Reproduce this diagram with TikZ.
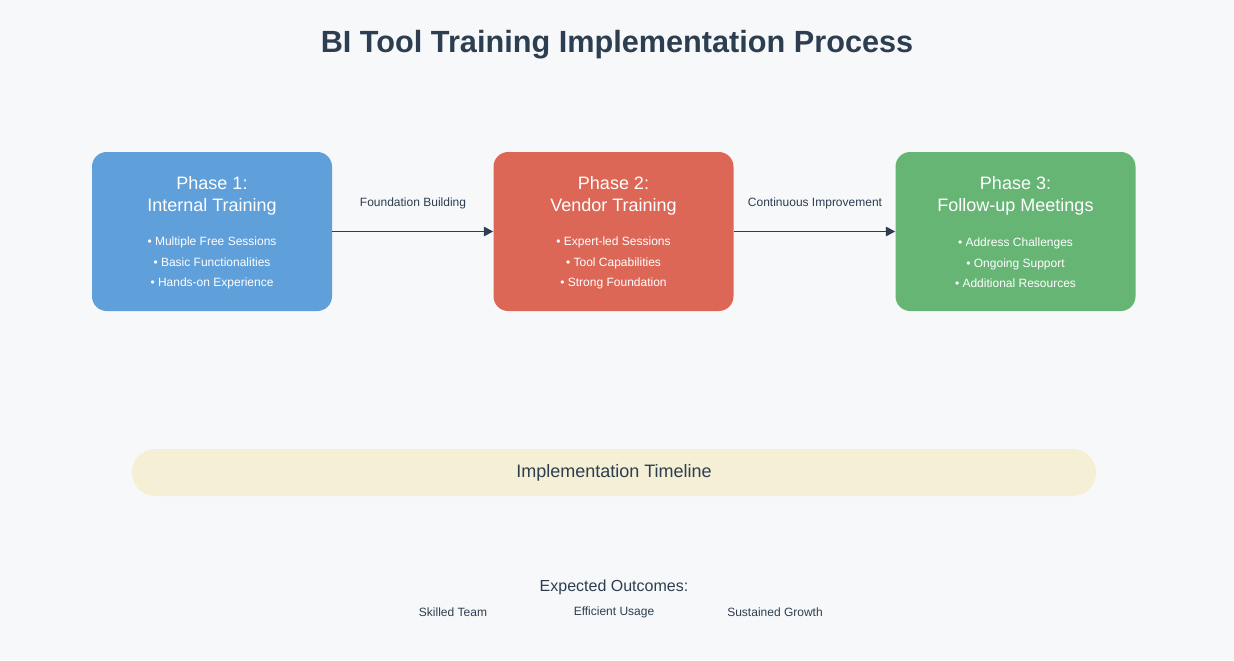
\documentclass[tikz,border=0pt]{standalone}
\usepackage{fontspec}
\setmainfont{Liberation Sans}
\usetikzlibrary{arrows.meta}
\definecolor{bg}{HTML}{F7F8FA}
\definecolor{dark}{HTML}{2C3E50}
\definecolor{pblue}{HTML}{5F9FDA}
\definecolor{pred}{HTML}{DC6757}
\definecolor{pgreen}{HTML}{66B574}
\definecolor{tl}{HTML}{F5EFD6}
\tikzset{
  phase/.style={fill=#1, rounded corners=11pt, minimum width=180pt, minimum height=119.25pt, inner sep=0pt},
  ptitle/.style={text=white, font=\fontsize{13.5}{16}\selectfont, align=center},
  pbul/.style={text=white, font=\fontsize{9}{11}\selectfont, align=center},
  conn/.style={dark, line width=1.3pt, -{Triangle[length=7pt,width=7pt]}},
  clabel/.style={text=dark, font=\fontsize{9}{11}\selectfont},
}
\begin{document}
\begin{tikzpicture}[x=0.75pt,y=-0.75pt]
\fill[bg] (0,0) rectangle (1234,660);
\useasboundingbox (0,0) rectangle (1234,660);
\node[text=dark, font=\bfseries\fontsize{23}{27}\selectfont] (title) at (617,45) {BI Tool Training Implementation Process};

\node[phase=pblue] (p1) at (212,231.5) {};
\node[phase=pred] (p2) at (613.5,231.5) {};
\node[phase=pgreen] (p3) at (1015.5,231.5) {};

\node[ptitle] (t1) at (212,196) {Phase 1:\\Internal Training};
\node[pbul] (b1) at (212,263) {• Multiple Free Sessions\\[4.5pt]• Basic Functionalities\\[4.5pt]• Hands-on Experience};
\node[ptitle] (t2) at (613.5,196) {Phase 2:\\Vendor Training};
\node[pbul] (b2) at (613.5,263) {• Expert-led Sessions\\[4.5pt]• Tool Capabilities\\[4.5pt]• Strong Foundation};
\node[ptitle] (t3) at (1015.5,196) {Phase 3:\\Follow-up Meetings};
\node[pbul] (b3) at (1015.5,263) {• Address Challenges\\[4.5pt]• Ongoing Support\\[4.5pt]• Additional Resources};

\draw[conn] (p1.east) -- (p2.west);
\draw[conn] (p2.east) -- (p3.west);
\node[clabel] (l1) at (413,203) {Foundation Building};
\node[clabel] (l2) at (815,203) {Continuous Improvement};

\node[fill=tl, rounded corners=17.6pt, minimum width=723pt, minimum height=35.25pt, inner sep=0pt,
  text=dark, font=\fontsize{13.5}{16}\selectfont] (tl) at (614,472.5) {Implementation Timeline};

\node[text=dark, font=\fontsize{12}{14}\selectfont] (eo) at (614,587) {Expected Outcomes:};
\node[clabel] (o1) at (453,612) {Skilled Team};
\node[clabel] (o2) at (614,612) {Efficient Usage};
\node[clabel] (o3) at (775,612) {Sustained Growth};
\end{tikzpicture}
\end{document}
